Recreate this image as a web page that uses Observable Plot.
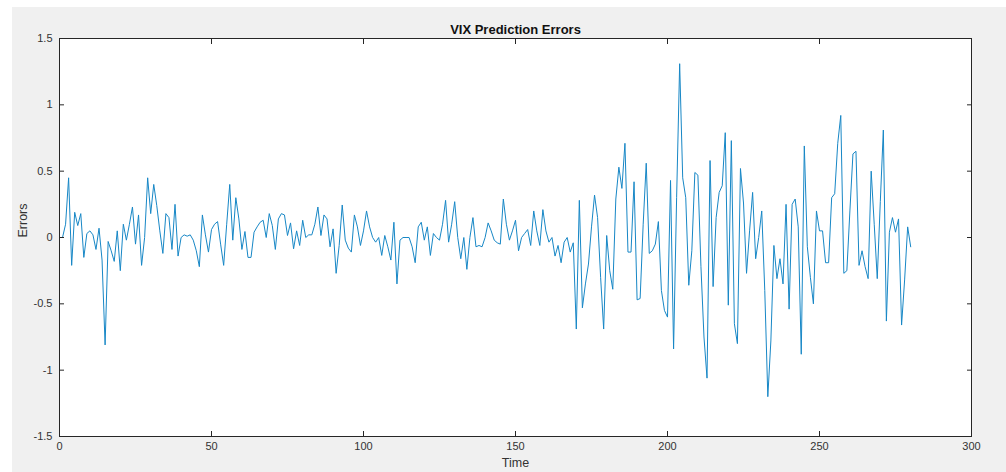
<!DOCTYPE html>
<html>
<head>
<meta charset="utf-8">
<script src="https://cdn.jsdelivr.net/npm/d3@7"></script>
<script src="https://cdn.jsdelivr.net/npm/@observablehq/plot@0.6"></script>
<style>
  html, body { margin: 0; padding: 0; background: #ffffff; }
  #wrap { position: relative; width: 1006px; height: 472px; overflow: hidden; }
  #figbg { position: absolute; left: 12px; top: 7px; width: 994px; height: 465px; background: #f0f0f0; }
  #chart { position: absolute; left: 0; top: 0; }
  #chart svg { background: transparent; }
</style>
</head>
<body>
<div id="wrap"><div id="figbg"></div><div id="chart"></div></div>
<script>
const titleText = "VIX Prediction Errors";
const xLabel = "Time";
const yLabel = "Errors";
const startTime = 1;
const xTicks = [0, 50, 100, 150, 200, 250, 300];
const yTicks = [-1.5, -1, -0.5, 0, 0.5, 1, 1.5];
const errors = [
  0.0, 0.1, 0.45, -0.21, 0.19, 0.09, 0.18, -0.15, 0.03, 0.05,
  0.02, -0.09, 0.07, -0.17, -0.81, -0.03, -0.1, -0.18, 0.05, -0.25,
  0.1, -0.02, 0.1, 0.23, -0.05, 0.17, -0.21, 0.0, 0.45, 0.18,
  0.4, 0.24, 0.05, -0.12, 0.18, 0.15, -0.09, 0.25, -0.14, 0.0,
  0.02, 0.01, 0.02, -0.02, -0.1, -0.22, 0.17, 0.02, -0.11, 0.06,
  0.1, 0.12, -0.05, -0.21, 0.1, 0.4, -0.02, 0.3, 0.14, -0.09,
  0.045, -0.15, -0.15, 0.04, 0.08, 0.115, 0.13, 0.0, 0.18, 0.09,
  -0.09, 0.14, 0.18, 0.17, 0.015, 0.11, -0.085, 0.05, -0.06, 0.13,
  0.0, 0.02, 0.02, 0.1, 0.23, 0.015, 0.17, 0.14, -0.07, 0.065,
  -0.27, -0.06, 0.245, -0.02, -0.08, -0.11, 0.17, 0.08, -0.06, 0.05,
  0.2, 0.08, 0.0, -0.035, 0.0, -0.135, 0.015, -0.07, -0.17, 0.115,
  -0.35, -0.02, 0.0, 0.0, 0.0, -0.07, -0.19, 0.08, 0.115, -0.02,
  0.08, -0.135, 0.03, 0.0, -0.02, 0.1, 0.28, -0.035, 0.1, 0.27,
  0.0, -0.16, 0.0, -0.24, 0.0, 0.15, -0.07, -0.06, -0.07, 0.0,
  0.11, 0.05, -0.02, -0.04, -0.05, 0.29, 0.1, -0.02, 0.05, 0.13,
  -0.1, 0.0, 0.03, 0.06, -0.06, 0.2, 0.05, -0.06, 0.21, 0.05,
  -0.035, 0.0, -0.14, -0.06, -0.19, -0.035, 0.0, -0.11, -0.04, -0.69,
  0.28, -0.53, -0.35, -0.2, 0.08, 0.32, 0.15, -0.3, -0.69, 0.015,
  -0.25, -0.39, 0.29, 0.53, 0.37, 0.71, -0.11, -0.11, 0.42, -0.47,
  -0.46, 0.1, 0.56, -0.12, -0.1, -0.05, 0.12, -0.4, -0.55, -0.6,
  0.43, -0.84, 0.3, 1.31, 0.45, 0.3, -0.36, -0.1, 0.49, 0.47,
  -0.22, -0.75, -1.06, 0.58, -0.37, 0.15, 0.34, 0.39, 0.79, -0.51,
  0.73, -0.65, -0.8, 0.52, 0.26, -0.27, 0.05, 0.34, -0.16, 0.0,
  0.2, -0.4, -1.2, -0.78, -0.06, -0.31, -0.16, -0.35, 0.25, -0.54,
  0.25, 0.29, 0.08, -0.88, 0.69, -0.07, -0.3, -0.5, 0.2, 0.05,
  0.05, -0.19, -0.19, 0.3, 0.33, 0.71, 0.92, -0.27, -0.25, 0.2,
  0.63, 0.65, -0.21, -0.1, -0.22, -0.31, 0.5, 0.1, -0.31, 0.27,
  0.81, -0.63, 0.04, 0.15, 0.04, 0.14, -0.66, -0.32, 0.08, -0.07
];

const data = errors.map((v, i) => ({t: startTime + i, v}));
const axisColor = "#262626";
const textColor = "#333333";

const chart = Plot.plot({
  width: 1006,
  height: 472,
  marginLeft: 59,
  marginRight: 35,
  marginTop: 38,
  marginBottom: 36,
  style: {fontFamily: "'Liberation Sans', Arial, Helvetica, sans-serif", fontSize: "11px", background: "transparent", color: textColor},
  x: {domain: [0, 300]},
  y: {domain: [-1.5, 1.5]},
  marks: [
    Plot.frame({fill: "white", stroke: "none"}),
    Plot.line(data, {x: "t", y: "v", stroke: "#1787c6", strokeWidth: 1}),
    // tick labels
    Plot.axisX({ticks: xTicks, anchor: "bottom", tickSize: 0, tickPadding: 6, tickFormat: d => String(d), fill: textColor, label: null}),
    Plot.axisY({ticks: yTicks, anchor: "left", tickSize: 0, tickPadding: 7, tickFormat: d => String(d), fill: textColor, label: null}),
    // inward ticks on all sides
    Plot.axisX({ticks: xTicks, anchor: "bottom", tickSize: -5, fill: "none", stroke: axisColor}),
    Plot.axisX({ticks: xTicks, anchor: "top", tickSize: -5, fill: "none", stroke: axisColor}),
    Plot.axisY({ticks: yTicks, anchor: "left", tickSize: -5, fill: "none", stroke: axisColor}),
    Plot.axisY({ticks: yTicks, anchor: "right", tickSize: -5, fill: "none", stroke: axisColor}),
    Plot.frame({stroke: axisColor, strokeWidth: 1}),
    // axis titles and chart title
    Plot.text([xLabel], {text: d => d, frameAnchor: "bottom", lineAnchor: "middle", dy: 26, fontSize: 12.5, fill: textColor}),
    Plot.text([yLabel], {text: d => d, frameAnchor: "left", lineAnchor: "middle", rotate: -90, dx: -37, fontSize: 12.5, fill: textColor}),
    Plot.text([titleText], {text: d => d, frameAnchor: "top", lineAnchor: "middle", dy: -9, fontWeight: "bold", fontSize: 13, fill: "#111"})
  ]
});
document.getElementById("chart").appendChild(chart);
</script>
</body>
</html>
